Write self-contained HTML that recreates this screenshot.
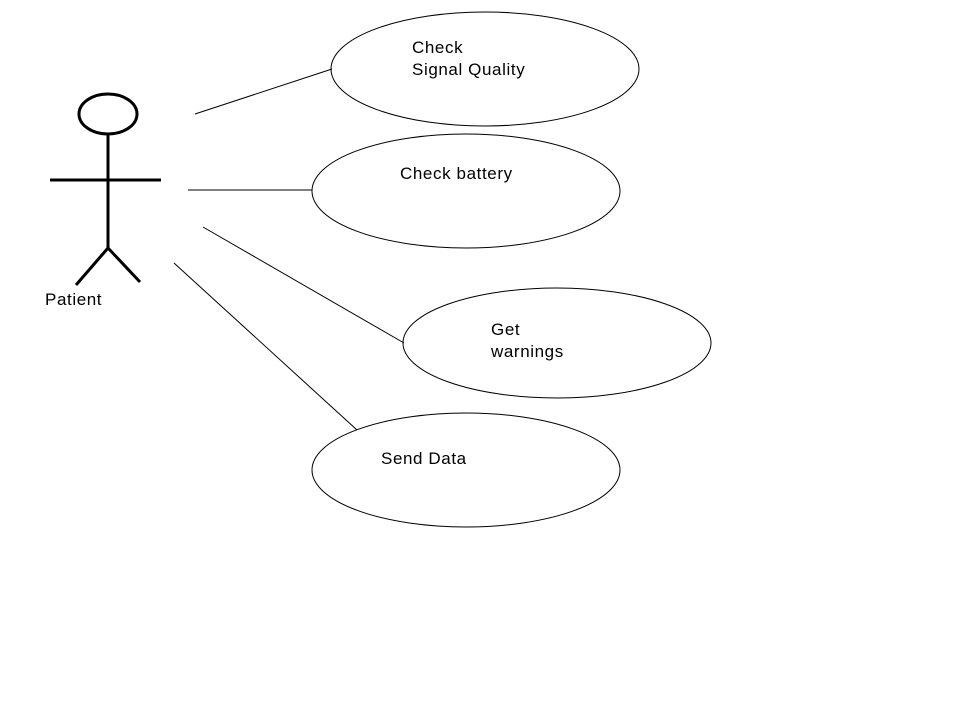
<!DOCTYPE html>
<html><head><style>body{margin:0;background:#fff}svg{display:block}</style></head><body>
<svg width="960" height="720" xmlns="http://www.w3.org/2000/svg" font-family="Liberation Sans, sans-serif" font-size="17" letter-spacing="0.6">
<rect width="960" height="720" fill="#fff"/>
<g stroke="#000" stroke-width="3" fill="none">
<ellipse cx="108" cy="114" rx="29" ry="20"/>
<line x1="108" y1="134" x2="108" y2="248"/>
<line x1="50" y1="180" x2="161" y2="180"/>
<line x1="108" y1="248" x2="76" y2="285"/>
<line x1="108" y1="248" x2="140" y2="282"/>
</g>
<text x="45" y="305">Patient</text>
<g stroke="#000" stroke-width="1" fill="none">
<ellipse cx="485" cy="69" rx="154" ry="57"/>
<ellipse cx="466" cy="191" rx="154" ry="57"/>
<ellipse cx="557" cy="343" rx="154" ry="55"/>
<ellipse cx="466" cy="470" rx="154" ry="57"/>
<line x1="195" y1="114" x2="332" y2="69"/>
<line x1="188" y1="190" x2="312" y2="190"/>
<line x1="203" y1="227" x2="404" y2="343"/>
<line x1="174" y1="263" x2="357" y2="430"/>
</g>
<text x="412" y="53">Check</text>
<text x="412" y="75">Signal Quality</text>
<text x="400" y="179">Check battery</text>
<text x="491" y="335">Get</text>
<text x="491" y="357">warnings</text>
<text x="381" y="464">Send Data</text>
</svg>
</body></html>
